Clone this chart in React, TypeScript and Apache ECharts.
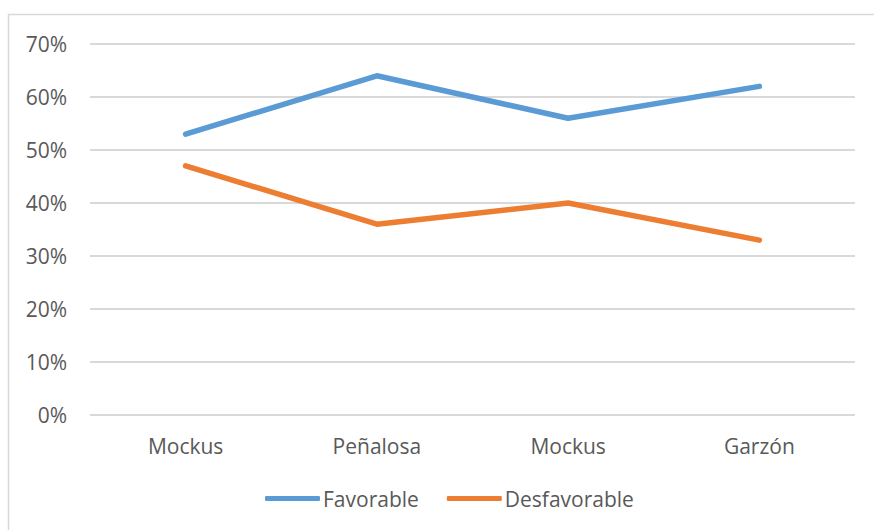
import React, { useEffect, useRef } from "react";
import * as echarts from "echarts";

const categories = ["Mockus", "Peñalosa", "Mockus", "Garzón"];
const favorable = [53, 64, 56, 62];
const desfavorable = [47, 36, 40, 33];
const seriesNames = ["Favorable", "Desfavorable"];

const FONT = "'Open Sans', 'Noto Sans', sans-serif";
const TEXT = "#595959";

export default function App() {
  const ref = useRef<HTMLDivElement>(null);

  useEffect(() => {
    if (!ref.current) return;
    const chart = echarts.init(ref.current, undefined, { renderer: "svg" });
    chart.setOption({
      animation: false,
      backgroundColor: "#ffffff",
      textStyle: { fontFamily: FONT, color: TEXT },
      graphic: [
        {
          type: "rect",
          shape: { x: 8.5, y: 14.5, width: 900, height: 600 },
          style: { fill: "none", stroke: "#d9d9d9", lineWidth: 1.5 },
          silent: true,
        },
      ],
      grid: { left: 90, right: 19, top: 44, bottom: 115 },
      legend: {
        data: seriesNames,
        top: 483,
        left: 260,
        icon: "roundRect",
        itemWidth: 55,
        itemHeight: 5,
        itemGap: 28,
        textStyle: { fontFamily: FONT, fontSize: 21, color: TEXT, padding: [0, 0, 0, -2] },
      },
      xAxis: {
        type: "category",
        data: categories,
        boundaryGap: true,
        axisLine: { show: false },
        axisTick: { show: false },
        axisLabel: { fontFamily: FONT, fontSize: 21, color: TEXT, margin: 20 },
      },
      yAxis: {
        type: "value",
        min: 0,
        max: 70,
        interval: 10,
        axisLine: { show: false },
        axisTick: { show: false },
        splitLine: { lineStyle: { color: "#d9d9d9", width: 2 } },
        axisLabel: {
          fontFamily: FONT,
          fontSize: 21,
          color: TEXT,
          margin: 23,
          formatter: (v: number) => `${v}%`,
        },
      },
      series: [
        {
          name: seriesNames[0],
          type: "line",
          data: favorable,
          symbol: "none",
          color: "#5b9bd5",
          lineStyle: { width: 5.5, cap: "round", join: "round" },
        },
        {
          name: seriesNames[1],
          type: "line",
          data: desfavorable,
          symbol: "none",
          color: "#ed7d31",
          lineStyle: { width: 5.5, cap: "round", join: "round" },
        },
      ],
    });
    return () => chart.dispose();
  }, []);

  return (
    <div
      ref={ref}
      style={{ position: "absolute", left: 0, top: 0, width: 874, height: 530 }}
    />
  );
}
